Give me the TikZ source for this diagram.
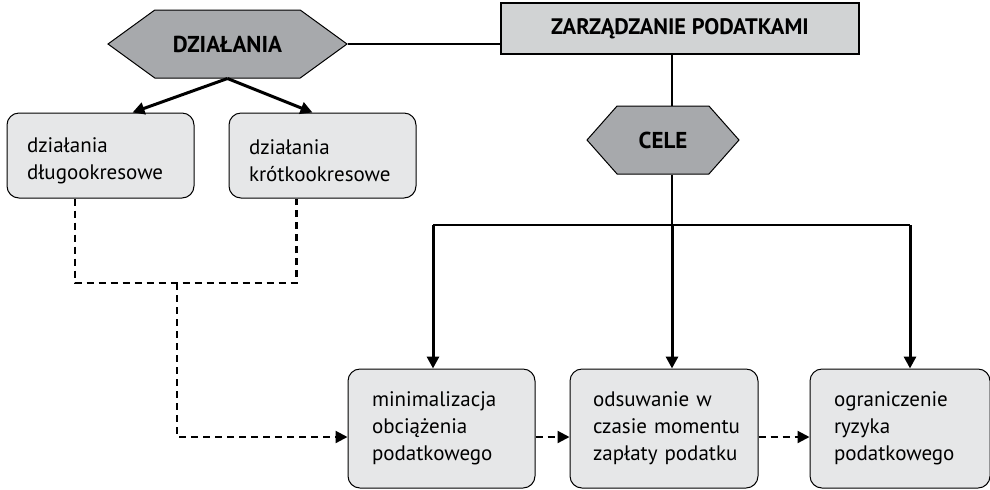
\documentclass[tikz,border=0pt]{standalone}
\usepackage{fontspec}
\setmainfont{PT Sans}
\usepackage{xcolor}
\usetikzlibrary{positioning, arrows.meta, shapes.symbols}

\definecolor{boxgray}{HTML}{E6E7E8}
\definecolor{hexgray}{HTML}{A7A9AC}
\definecolor{headgray}{HTML}{D1D3D4}

\hyphenpenalty=10000
\exhyphenpenalty=10000

\begin{document}
\begin{tikzpicture}[
    x=0.5pt, y=-0.5pt,
    node distance=17pt and 17pt,
    hexa/.style={signal, signal to=west and east, draw, line width=0.5pt, fill=hexgray, minimum height=34pt, inner sep=0pt, font=\fontsize{11.5}{13}\selectfont\bfseries},
    head/.style={rectangle, draw, line width=0.6pt, fill=headgray, minimum width=179pt, minimum height=25.5pt, font=\fontsize{11.2}{13}\selectfont\bfseries},
    action/.style={rectangle, draw, line width=0.5pt, rounded corners=6pt, fill=boxgray, inner xsep=10pt, text width=73.5pt, minimum height=42.5pt, align=left, text height=12.5pt, font=\fontsize{10.5}{13.5}\selectfont},
    goal/.style={rectangle, draw, line width=0.5pt, rounded corners=6pt, fill=boxgray, inner xsep=12pt, text width=69.5pt, minimum height=59.5pt, align=left, font=\fontsize{10.5}{13.5}\selectfont},
    plain/.style={line width=0.6pt},
    strong/.style={-{Triangle[length=6pt, width=6pt]}, line width=1.5pt},
    link/.style={dashed, dash pattern=on 3.5pt off 2.5pt, line width=1.1pt},
    linkto/.style={link, -{Triangle[length=6pt, width=6pt]}}
]
\useasboundingbox (0,0) rectangle (990,489);

\node[head] (zarz) at (680,28.5) {ZARZĄDZANIE PODATKAMI};
\node[hexa, minimum width=119.5pt, signal pointer angle=72] (dzial) at (227.5,44) {DZIAŁANIA};
\node[hexa, minimum width=76pt, signal pointer angle=97] (cele) at (663,140) {CELE};

\node[action] (long) at (100.5,155.5) {działania\\długookresowe};
\node[action, right=of long] (short) {działania\\krótkookresowe};

\node[goal] (mini) at (441.5,428.5) {minimalizacja\\obciążenia\\podatkowego};
\node[goal, right=of mini, inner xsep=11.5pt, text width=71pt] (odsu) {odsuwanie~w\\czasie~momentu\\zapłaty~podatku};
\node[goal, right=25.5pt of odsu, text width=66pt] (ogr) {ograniczenie\\ryzyka\\podatkowego};

% lines from the head
\coordinate (b1) at (433,225);
\coordinate (b2) at (672,225);
\coordinate (b3) at (910,225);
\draw[plain] (dzial.east) -- (dzial.east -| zarz.west);
\draw[plain] (b2 |- zarz.south) -- (b2 |- cele.north);
\draw[plain] (b2 |- cele.south) -- (b2);
\draw[plain] (b1) -- (b3);

\draw[strong] (dzial.south) -- ([xshift=16pt]long.north);
\draw[strong] (dzial.south) -- ([xshift=-5pt]short.north);
\draw[strong] (b1) -- (b1 |- mini.north);
\draw[strong] (b2) -- (b2 |- odsu.north);
\draw[strong] (b3) -- (b3 |- ogr.north);

% dashed links
\coordinate (join) at (177,283);
\draw[link] ([xshift=-12.75pt]long.south) |- (join) -| ([xshift=-13pt]short.south);
\draw[linkto] (join) |- ([yshift=-4.25pt]mini.west);
\draw[linkto] ([yshift=-4.25pt]mini.east) -- ([yshift=-4.25pt]odsu.west);
\draw[linkto] ([yshift=-4.25pt]odsu.east) -- ([yshift=-4.25pt]ogr.west);

\end{tikzpicture}
\end{document}
